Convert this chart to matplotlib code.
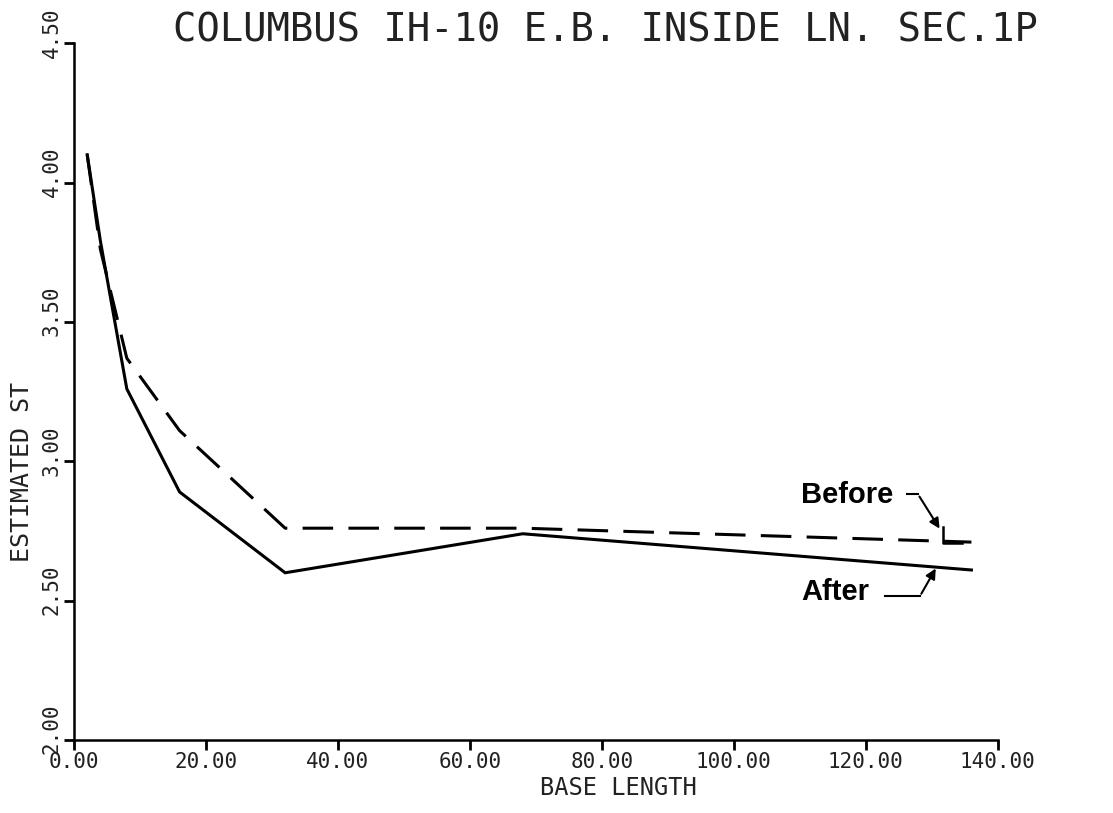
import numpy as np
import matplotlib.pyplot as plt
from matplotlib.transforms import ScaledTranslation

# data
base_length = [2, 4, 8, 16, 32, 68, 136]
st_after = [4.10, 3.79, 3.26, 2.89, 2.60, 2.74, 2.61]
st_before = [4.10, 3.76, 3.37, 3.11, 2.76, 2.76, 2.71]

x_ticks = [0, 20, 40, 60, 80, 100, 120, 140]
x_ticklabels = ["0.00", "20.00", "40.00", "60.00", "80.00", "100.00", "120.00", "140.00"]
y_ticks = [2.0, 2.5, 3.0, 3.5, 4.0, 4.5]
y_ticklabels = ["2.00", "2.50", "3.00", "3.50", "4.00", "4.50"]

mono = "DejaVu Sans Mono"

fig = plt.figure(figsize=(11.13, 8.13), dpi=100)
ax = fig.add_axes([0.0665, 0.0898, 0.830, 0.857])

ax.plot(base_length, st_after, color="black", lw=2.2, solid_joinstyle="miter")
ax.plot(base_length, st_before, color="black", lw=2.2, dashes=(10, 5))

ax.set_xlim(0, 140)
ax.set_ylim(2.0, 4.5)
for s in ["top", "right"]:
    ax.spines[s].set_visible(False)
for s in ["left", "bottom"]:
    ax.spines[s].set_linewidth(1.8)

ax.set_xticks(x_ticks)
ax.set_xticklabels(x_ticklabels, fontfamily=mono, fontsize=15, color="#222222")
ax.set_yticks(y_ticks)
ax.set_yticklabels(y_ticklabels, fontfamily=mono, fontsize=15, color="#222222",
                   rotation=90, va="center")
ax.tick_params(direction="out", length=7, width=2, pad=2)

# y tick labels sit a little above their ticks in the original
shift = ScaledTranslation(0, 11 / 100, fig.dpi_scale_trans)
for lab in ax.get_yticklabels():
    lab.set_transform(lab.get_transform() + shift)

fig.text(0.544, 0.962, "COLUMBUS IH-10 E.B. INSIDE LN. SEC.1P", fontfamily=mono,
         fontsize=28, ha="center", va="center", color="#222222")
fig.text(0.556, 0.031, "BASE LENGTH", fontfamily=mono, fontsize=17,
         ha="center", va="center", color="#222222")
fig.text(0.02, 0.42, "ESTIMATED ST", fontfamily=mono, fontsize=18, rotation=90,
         ha="center", va="center", color="#222222")

# hand drawn labels with arrows
ax.text(117.1, 2.879, "Before", fontfamily="Liberation Sans", fontweight="bold",
        fontsize=21, ha="center", va="center")
ax.plot([126.2, 127.9], [2.882, 2.882], color="black", lw=1.5)
ax.annotate("", xy=(131.4, 2.750), xytext=(127.9, 2.882),
            arrowprops=dict(arrowstyle="-|>", color="black", lw=1.5, mutation_scale=15))
ax.plot([131.7, 131.7, 134.5], [2.764, 2.707, 2.707], color="black", lw=1.8)

ax.text(115.3, 2.531, "After", fontfamily="Liberation Sans", fontweight="bold",
        fontsize=21, ha="center", va="center")
ax.plot([122.9, 128.2], [2.516, 2.516], color="black", lw=1.5)
ax.annotate("", xy=(130.8, 2.624), xytext=(128.2, 2.516),
            arrowprops=dict(arrowstyle="-|>", color="black", lw=1.5, mutation_scale=15))

fig.savefig("out.png", dpi=100)
